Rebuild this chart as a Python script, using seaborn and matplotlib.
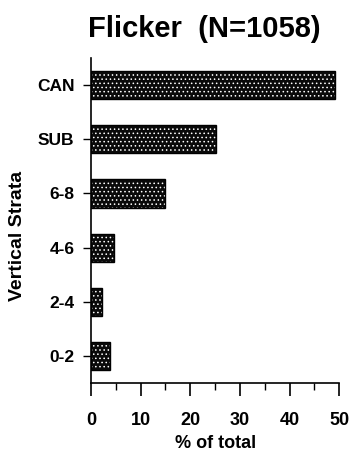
import pandas as pd
import seaborn as sns
from matplotlib import pyplot as plt
from matplotlib.ticker import MultipleLocator

strata = ["CAN", "SUB", "6-8", "4-6", "2-4", "0-2"]
percent = [49.2, 25.2, 14.9, 4.6, 2.2, 3.8]

sns.set_theme(style="ticks")
plt.rcParams["font.family"] = ["Liberation Sans", "DejaVu Sans"]
plt.rcParams["font.weight"] = "bold"
plt.rcParams["hatch.linewidth"] = 0.6
for k in ["text.color", "axes.labelcolor", "xtick.color", "ytick.color", "axes.edgecolor"]:
    plt.rcParams[k] = "black"

df = pd.DataFrame({"strata": strata, "percent": percent})

fig = plt.figure(figsize=(3.5, 4.58), dpi=100)
ax = fig.add_axes([0.26, 0.164, 0.709, 0.709])

# dotted fill
sns.barplot(data=df, x="percent", y="strata", order=strata, color="#0a0a0a",
            width=0.52, linewidth=0, ax=ax)
for p in ax.patches:
    p.set_hatch("....")
    p.set_edgecolor("white")
# black outline on top
sns.barplot(data=df, x="percent", y="strata", order=strata, fill=False,
            edgecolor="black", width=0.52, linewidth=1.0, ax=ax)

ax.set_xlim(0, 50)
ax.set_ylim(5.5, -0.5)
ax.xaxis.set_major_locator(MultipleLocator(10))
ax.xaxis.set_minor_locator(MultipleLocator(5))
ax.tick_params(axis="x", which="major", length=9, width=1.2, labelsize=13, pad=12)
ax.tick_params(axis="x", which="minor", length=5, width=1.0)
ax.tick_params(axis="y", length=6, width=1.0, labelsize=12.5, pad=6)
for s in ["top", "right"]:
    ax.spines[s].set_visible(False)
for s in ["left", "bottom"]:
    ax.spines[s].set_linewidth(1.2)

ax.set_xlabel("% of total", fontsize=13, fontweight="bold", labelpad=4)
ax.set_ylabel("")
fig.text(0.05, 1 - 236 / 458, "Vertical Strata", rotation=90, ha="center", va="center",
         fontsize=14, fontweight="bold")
fig.text(0.585, 0.92, "Flicker  (N=1058)", ha="center", va="baseline",
         fontsize=21, fontweight="bold")

plt.savefig("out.png", dpi=100)
